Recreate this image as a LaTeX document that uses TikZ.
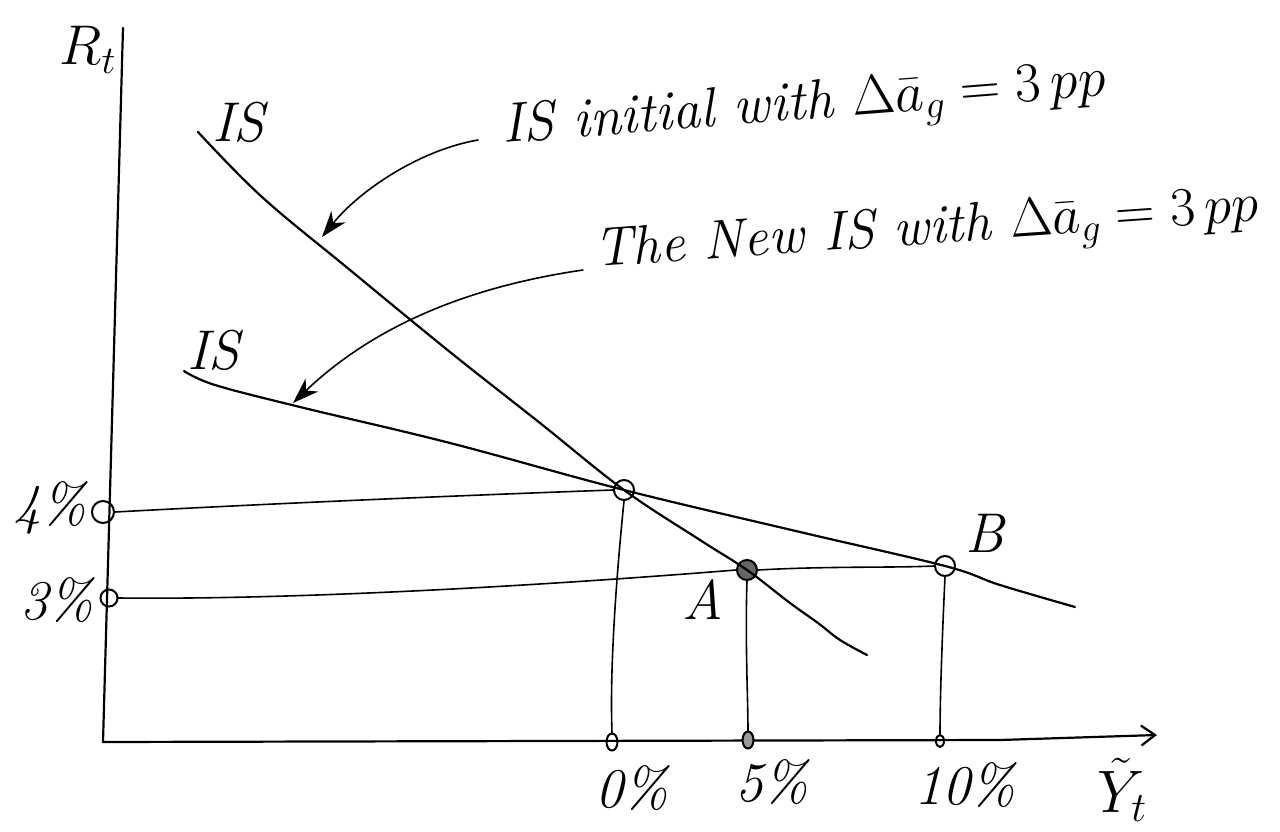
\RequirePackage{fix-cm}
\documentclass[tikz,border=0pt]{standalone}
\usetikzlibrary{arrows.meta,shapes.geometric}
\begin{document}
\begin{tikzpicture}[x=1pt,y=-1pt,
  pen/.style={line width=2.2pt,line cap=round,line join=round},
  thin pen/.style={line width=1.6pt,line cap=round},
  dot/.style={circle,draw,line width=2pt,inner sep=0pt,minimum size=20pt},
  smalldot/.style={ellipse,draw,line width=2pt,inner sep=0pt,minimum width=11pt,minimum height=17pt},
  lab/.style={font=\fontsize{56}{60}\selectfont\itshape,inner sep=0pt},
  note/.style={font=\fontsize{56}{60}\selectfont\itshape,inner sep=0pt,anchor=base west},
  ann/.style={thin pen,-{Stealth[length=26pt,width=18pt,inset=8pt]}}]
\useasboundingbox (0,0) rectangle (1280,832);
\fill[white] (0,0) rectangle (1280,832);

% axes
\coordinate (ytop) at (123,28);
\coordinate (origin) at (103,742);
\coordinate (xend) at (1157,735);
\draw[pen] (ytop) -- (origin);
\draw[pen,-{Straight Barb[length=14pt,width=20pt]}] (origin) -- (1000,740) -- (xend);

% points
\node[dot] (E) at (624,490) {};
\node[dot,fill=black!60] (A) at (747,570) {};
\node[dot] (B) at (945,566) {};
\node[dot,minimum size=22pt] (r4) at (103,512) {};
\node[dot,minimum size=17pt] (r3) at (109,598) {};
\node[smalldot] (x0) at (612,742) {};
\node[smalldot,fill=black!40] (x5) at (748,740) {};
\node[smalldot,minimum width=8pt,minimum height=12pt] (x10) at (940,741) {};

% IS curves
\draw[pen] plot[smooth,tension=0.6] coordinates {(198,132) (262,197) (350,270) (450,352) (540,423) (624,490) (700,540) (747,570) (790,603) (818,623) (840,640) (867,655)};
\draw[pen] plot[smooth,tension=0.6] coordinates {(184,371) (215,385) (300,407) (450,443) (624,490) (800,532) (945,566) (1000,585) (1075,607)};

% guide lines
\draw[thin pen] (r4.east) .. controls (300,502) and (500,494) .. (E.west);
\draw[thin pen] (r3.east) .. controls (300,600) and (550,585) .. (A.west);
\draw[thin pen] (A.east) .. controls (830,566) and (890,568) .. (B.west);
\draw[thin pen] (E.south) .. controls (614,600) and (610,680) .. (x0.north);
\draw[thin pen] (A.south) .. controls (745,640) and (748,700) .. (x5.north);
\draw[thin pen] (B.south) .. controls (942,640) and (940,700) .. (x10.north);

% annotation arrows
\coordinate (t1) at (478,140);
\coordinate (h1) at (322,237);
\coordinate (t2) at (583,270);
\coordinate (h2) at (293,403);
\draw[ann] (t1) .. controls (420,150) and (360,190) .. (h1);
\draw[ann] (t2) .. controls (480,285) and (380,320) .. (h2);

% labels
\node[lab] (Rt) at (88,50) {$R_t$};
\node[lab] (IS1) at (238,122) {IS};
\node[lab] (IS2) at (213,350) {IS};
\node[lab] (Alab) at (703,600) {A};
\node[lab] (Blab) at (985,533) {B};
\node[lab] (p0) at (632,788) {0\%};
\node[lab] (p5) at (772,782) {5\%};
\node[lab] (p10) at (965,785) {10\%};
\node[lab,font=\fontsize{60}{64}\selectfont] (Yt) at (1122,790) {$\tilde{Y}_t$};
\node[lab] (r3lab) at (57,600) {3\%};
\node[lab] (r4lab) at (50,508) {4\%};
\node[note,rotate=4.5] (n1) at (503,143) {IS initial with $\Delta\bar{a}_g = 3\,pp$};
\node[note,rotate=4,font=\fontsize{55}{60}\selectfont\itshape] (n2) at (595,267) {The New IS with $\Delta\bar{a}_g = 3\,pp$};
\end{tikzpicture}
\end{document}
